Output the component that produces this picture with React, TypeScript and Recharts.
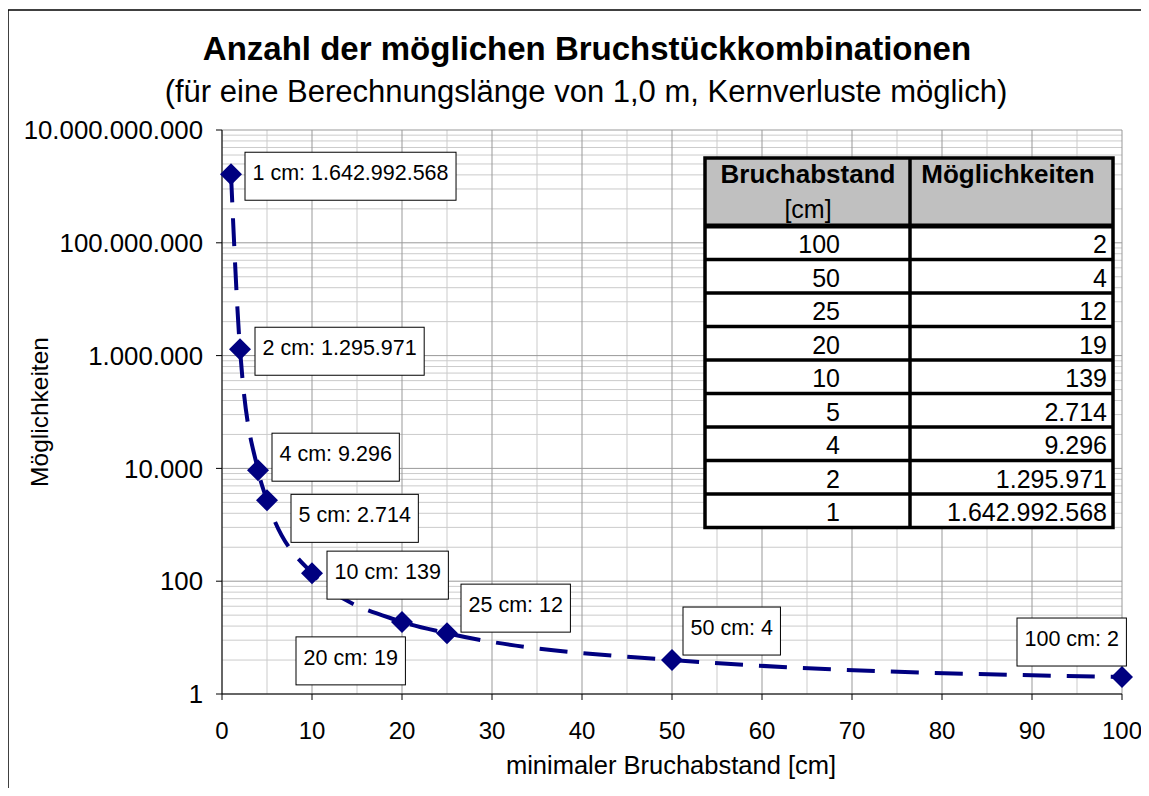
import { LineChart, Line, XAxis, YAxis, CartesianGrid } from "recharts";

const breakDistances = [1, 2, 4, 5, 10, 20, 25, 50, 100];
const combinations = [1642992568, 1295971, 9296, 2714, 139, 19, 12, 4, 2];
const xTicks = [0, 10, 20, 30, 40, 50, 60, 70, 80, 90, 100];
const xMinorGrid = [5, 15, 25, 35, 45, 55, 65, 75, 85, 95];
const yTicks = [1, 100, 10000, 1000000, 100000000, 10000000000];
const yMinorFactors = [4, 9, 16, 25, 36, 49, 64, 81];

// label box offset from the marker: [dx, dy]
const labelOffsets = [
  [14, -22],
  [15, -22],
  [14, -37],
  [24, -6],
  [15, -22],
  [-106, 15],
  [14, -49],
  [11, -53],
  [-105, -59],
];

const FONT = "'Liberation Sans', Arial, sans-serif";
const NAVY = "#000080";

const fmt = (n: number) =>
  String(Math.round(n)).replace(/\B(?=(\d{3})+(?!\d))/g, ".");

const data = breakDistances.map((x, i) => ({ x, y: combinations[i] }));

const yMinorGrid = yTicks
  .slice(0, -1)
  .flatMap((base) => yMinorFactors.map((f) => base * f));

let ctx: CanvasRenderingContext2D | null = null;
function textWidth(text: string, font: string) {
  if (!ctx) ctx = document.createElement("canvas").getContext("2d");
  if (!ctx) return text.length * 11;
  ctx.font = font;
  return ctx.measureText(text).width;
}

function MarkerWithLabel(props: any) {
  const { cx, cy, index } = props;
  if (cx == null || cy == null) return null;
  const r = 11;
  const label = `${breakDistances[index]} cm: ${fmt(combinations[index])}`;
  const w = textWidth(label, `21.5px ${FONT}`) + 15;
  const [dx, dy] = labelOffsets[index];
  const bx = cx + dx;
  const by = cy + dy;
  return (
    <g key={`m-${index}`}>
      <polygon
        points={`${cx},${cy - r} ${cx + r},${cy} ${cx},${cy + r} ${cx - r},${cy}`}
        fill={NAVY}
      />
      <rect x={bx} y={by} width={w} height={48} fill="#fff" stroke="#000" strokeWidth={1} />
      <text x={bx + 7.5} y={by + 28} fontSize={21.5} fontFamily={FONT} fill="#000">
        {label}
      </text>
    </g>
  );
}

function ValueTable() {
  const rowsX = [...breakDistances].reverse();
  const rowsY = [...combinations].reverse();
  const left = 705;
  const right = 1113;
  const top = 158;
  const headBottom = 226;
  const rowH = 33.5;
  const bottom = headBottom + rowH * rowsX.length;
  const colX = 910;
  return (
    <g fontFamily={FONT}>
      <rect x={left} y={top} width={right - left} height={headBottom - top} fill="#c0c0c0" />
      <rect x={left} y={headBottom} width={right - left} height={bottom - headBottom} fill="#fff" />
      <text x={808} y={183} fontSize={26} fontWeight="bold" textAnchor="middle">Bruchabstand</text>
      <text x={808} y={218} fontSize={25} textAnchor="middle">[cm]</text>
      <text x={1008} y={183} fontSize={26} fontWeight="bold" textAnchor="middle">Möglichkeiten</text>
      {rowsX.map((d, i) => (
        <g key={d}>
          <text x={840} y={headBottom + rowH * i + 27} fontSize={25} textAnchor="end">{d}</text>
          <text x={1107} y={headBottom + rowH * i + 27} fontSize={25} textAnchor="end">{fmt(rowsY[i])}</text>
          {i > 0 && (
            <line x1={left} x2={right} y1={headBottom + rowH * i} y2={headBottom + rowH * i} stroke="#000" strokeWidth={3.5} />
          )}
        </g>
      ))}
      <line x1={left} x2={right} y1={headBottom} y2={headBottom} stroke="#000" strokeWidth={5} />
      <line x1={colX} x2={colX} y1={top} y2={bottom} stroke="#000" strokeWidth={3.5} />
      <rect x={left} y={top} width={right - left} height={bottom - top} fill="none" stroke="#000" strokeWidth={3.5} />
    </g>
  );
}

export default function App() {
  return (
    <div style={{ position: "relative", width: 1149, height: 796, margin: -8, overflow: "hidden", background: "#fff" }}>
      <LineChart
        width={1149}
        height={796}
        data={data}
        margin={{ top: 130, right: 27, bottom: 42, left: 0 }}
      >
        <CartesianGrid stroke="#cbcbcb" horizontalValues={yMinorGrid} verticalValues={xMinorGrid} />
        <CartesianGrid stroke="#999999" horizontalValues={yTicks} verticalValues={xTicks} />
        <XAxis
          dataKey="x"
          type="number"
          domain={[0, 100]}
          ticks={xTicks}
          interval={0}
          height={60}
          tickSize={6}
          tickMargin={22}
          axisLine={{ stroke: "#000" }}
          tickLine={{ stroke: "#000" }}
          tick={{ fontSize: 24, fill: "#000", fontFamily: FONT }}
        />
        <YAxis
          type="number"
          scale="log"
          domain={[1, 10000000000]}
          allowDataOverflow
          ticks={yTicks}
          interval={0}
          width={222}
          tickSize={6}
          tickMargin={13}
          tickFormatter={fmt}
          axisLine={{ stroke: "#000" }}
          tickLine={{ stroke: "#000" }}
          tick={{ fontSize: 25.8, fill: "#000", fontFamily: FONT }}
        />
        <Line
          dataKey="y"
          type="monotone"
          stroke={NAVY}
          strokeWidth={4}
          strokeDasharray="28 16"
          dot={MarkerWithLabel}
          activeDot={false}
          isAnimationActive={false}
        />
      </LineChart>
      <svg
        width={1149}
        height={796}
        style={{ position: "absolute", left: 0, top: 0, pointerEvents: "none" }}
      >
        <line x1={8} y1={10} x2={1149} y2={10} stroke="#000" strokeWidth={1.5} />
        <line x1={8} y1={10} x2={8} y2={796} stroke="#000" strokeWidth={1.5} />
        <text x={587} y={60} textAnchor="middle" fontSize={33} fontWeight="bold" fontFamily={FONT}>
          Anzahl der möglichen Bruchstückkombinationen
        </text>
        <text x={586} y={102} textAnchor="middle" fontSize={31} fontFamily={FONT}>
          (für eine Berechnungslänge von 1,0 m, Kernverluste möglich)
        </text>
        <text
          x={48}
          y={412}
          textAnchor="middle"
          fontSize={24.5}
          fontFamily={FONT}
          transform="rotate(-90, 48, 412)"
        >
          Möglichkeiten
        </text>
        <text x={671} y={774} textAnchor="middle" fontSize={25.5} fontFamily={FONT}>
          minimaler Bruchabstand [cm]
        </text>
        <ValueTable />
      </svg>
    </div>
  );
}
